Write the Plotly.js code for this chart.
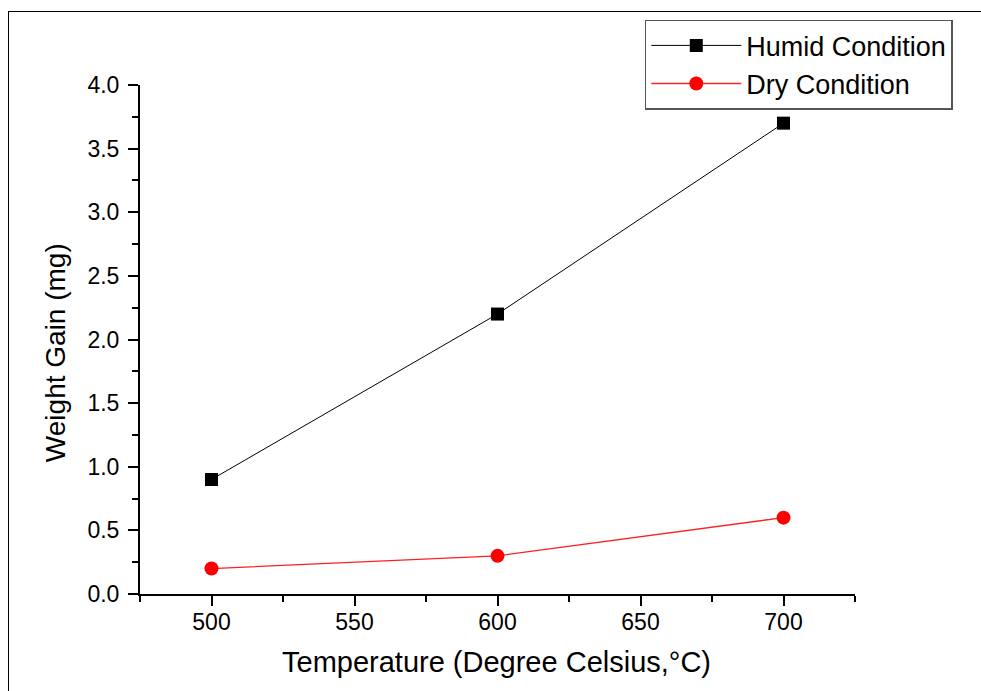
<!DOCTYPE html>
<html>
<head>
<meta charset="utf-8">
<script src="https://cdn.plot.ly/plotly-3.0.1.min.js"></script>
<style>
  html, body { margin: 0; padding: 0; background: #fff; }
  #wrap { position: relative; width: 981px; height: 691px; overflow: hidden; }
  #frame { position: absolute; left: 8px; top: 11px; right: -5px; bottom: -5px;
           border-left: 1.5px solid #000; border-top: 1.5px solid #000; pointer-events: none; }
  #chart { position: absolute; left: 0; top: 0; width: 981px; height: 691px; }
</style>
</head>
<body>
<div id="wrap">
  <div id="chart"></div>
  <div id="frame"></div>
</div>
<script>
const temperatures = [500, 600, 700];
const humidGain = [0.9, 2.2, 3.7];
const dryGain = [0.2, 0.3, 0.6];
const seriesNames = ["Humid Condition", "Dry Condition"];
const xTitle = "Temperature (Degree Celsius,°C)";
const yTitle = "Weight Gain (mg)";

const FONT = "Arial, 'Liberation Sans', sans-serif";

const traces = [
  {
    x: temperatures, y: humidGain, name: seriesNames[0],
    type: "scatter", mode: "lines+markers",
    line: { color: "#000000", width: 1 },
    marker: { symbol: "square", size: 13, color: "#000000" }
  },
  {
    x: temperatures, y: dryGain, name: seriesNames[1],
    type: "scatter", mode: "lines+markers",
    line: { color: "#ff2020", width: 1.3 },
    marker: { symbol: "circle", size: 14, color: "#ff0000" }
  }
];

const axisCommon = {
  showgrid: false, zeroline: false,
  showline: true, linecolor: "#000", linewidth: 2,
  ticks: "outside", ticklen: 10, tickwidth: 2, tickcolor: "#000",
  tickfont: { family: FONT, size: 23, color: "#000" },
  mirror: false
};

const layout = {
  width: 981, height: 691,
  paper_bgcolor: "#fff", plot_bgcolor: "#fff",
  margin: { l: 140, r: 126, t: 85, b: 97, autoexpand: false },
  showlegend: true,
  legend: {
    x: 0.706, xanchor: "left", y: 1.128, yanchor: "top",
    itemwidth: 90,
    bgcolor: "#fff", bordercolor: "#555", borderwidth: 1.5,
    font: { family: FONT, size: 27, color: "#000" }
  },
  xaxis: Object.assign({}, axisCommon, {
    range: [475, 725], dtick: 50, tick0: 500,
    ticklabelstandoff: -4,
    minor: { dtick: 25, tick0: 475, ticks: "outside", ticklen: 6, tickwidth: 2, tickcolor: "#000" }
  }),
  yaxis: Object.assign({}, axisCommon, {
    range: [0, 4], dtick: 0.5, tickformat: ".1f",
    ticklabelstandoff: 4,
    minor: { dtick: 0.25, ticks: "outside", ticklen: 6, tickwidth: 2, tickcolor: "#000" }
  }),
  annotations: [
    {
      text: xTitle, xref: "paper", yref: "paper", x: 0.498, y: -0.1336,
      xanchor: "center", yanchor: "middle", showarrow: false,
      font: { family: FONT, size: 29, color: "#000" }
    },
    {
      text: yTitle, xref: "paper", yref: "paper", x: -0.119, y: 0.475,
      xanchor: "center", yanchor: "middle", showarrow: false, textangle: -90,
      font: { family: FONT, size: 28, color: "#000" }
    }
  ]
};

Plotly.newPlot("chart", traces, layout, { displayModeBar: false, staticPlot: true });
</script>
</body>
</html>
